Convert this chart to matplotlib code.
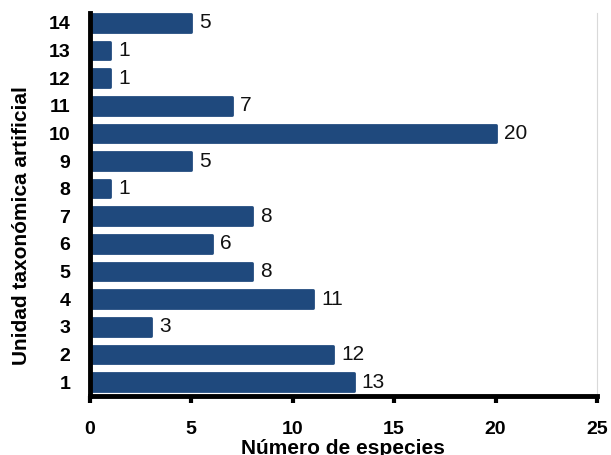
import matplotlib.pyplot as plt
import numpy as np

plt.rcParams['font.family'] = ['Liberation Sans', 'DejaVu Sans']

# unidades taxonómicas artificiales y número de especies
unidades = [1, 2, 3, 4, 5, 6, 7, 8, 9, 10, 11, 12, 13, 14]
especies = [13, 12, 3, 11, 8, 6, 8, 1, 5, 20, 7, 1, 1, 5]
x_ticks = [0, 5, 10, 15, 20, 25]

fig = plt.figure(figsize=(6.11, 4.55), dpi=100)
ax = fig.add_axes([0.147, 0.130, 0.830, 0.841])

bars = ax.barh(unidades, especies, height=0.64, color='#1F497D',
               edgecolor='#1F497D', linewidth=2, joinstyle='round')

# etiquetas de valor al final de cada barra
for u, e in zip(unidades, especies):
    ax.annotate(str(e), (e, u), xytext=(6, 0), textcoords='offset points',
                va='center', ha='left', fontsize=15, color='#111111')

ax.set_xlim(0, 25)
ax.set_ylim(0.5, 14.35)
ax.set_xticks(x_ticks)
ax.set_yticks(unidades)

for lbl in ax.get_xticklabels() + ax.get_yticklabels():
    lbl.set_fontweight('bold')
    lbl.set_fontsize(14)

ax.tick_params(axis='x', direction='out', length=5, width=3, pad=13)
ax.tick_params(axis='y', length=0, pad=14)

ax.spines['top'].set_visible(False)
ax.spines['left'].set_linewidth(3.5)
ax.spines['bottom'].set_linewidth(3.5)
ax.spines['right'].set_color('#d9d9d9')
ax.spines['right'].set_linewidth(0.8)

ax.set_xlabel('Número de especies', fontsize=15, fontweight='bold', labelpad=1)
ax.set_ylabel('Unidad taxonómica artificial', fontsize=15, fontweight='bold', va='center')
ax.yaxis.set_label_coords(-0.135, 0.444)

fig.savefig('out.png', dpi=100)
